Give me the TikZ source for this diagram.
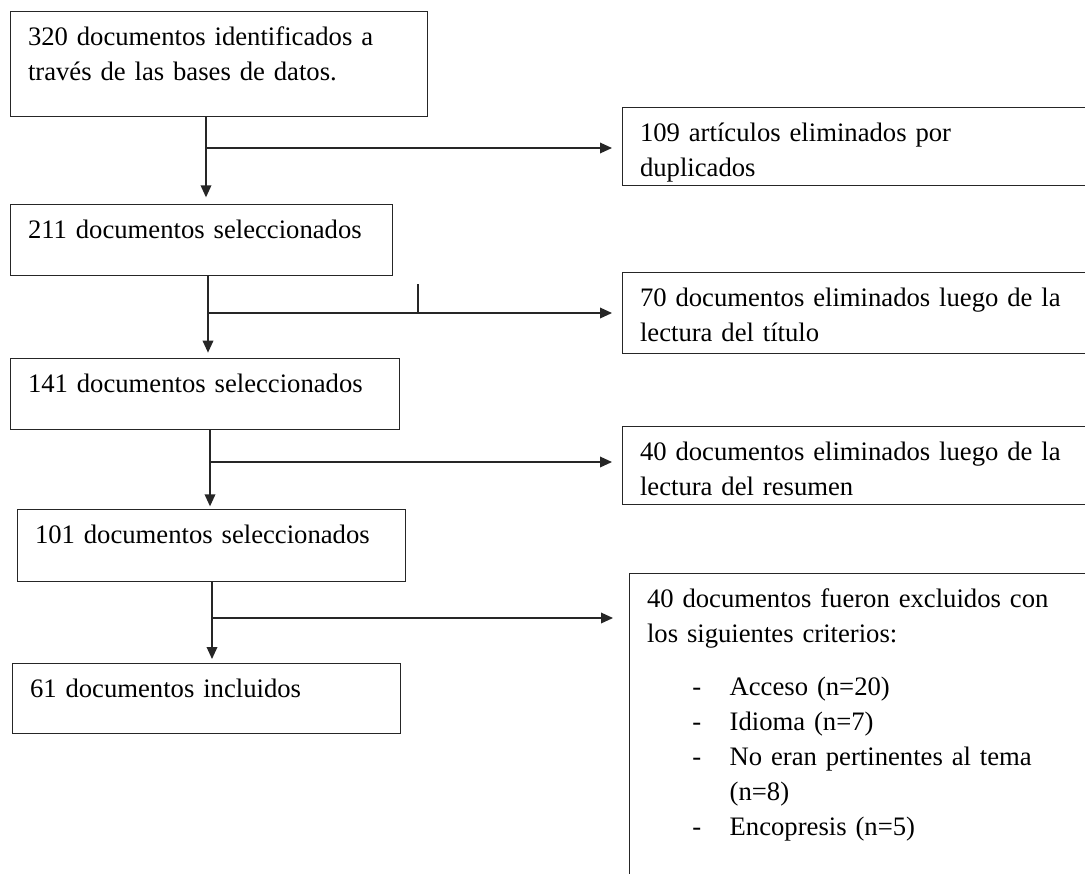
\documentclass[tikz,border=0pt]{standalone}
\usepackage{fontspec}
\setmainfont{Liberation Serif}
\usetikzlibrary{arrows.meta}

\newcommand{\crit}[1]{\makebox[62pt][l]{\hspace*{34pt}-}#1}

\begin{document}
\begin{tikzpicture}[
  x=0.75pt, y=-0.75pt,
  box/.style={draw=black!85, line width=1pt, anchor=north west, align=left,
    inner xsep=13pt, inner ysep=0pt, text height=25.5pt,
    font=\fontsize{20pt}{26.25pt}\selectfont},
  flow/.style={draw=black!85, line width=1pt, -{Triangle[length=9pt,width=8pt]}}
]
\useasboundingbox (0,0) rectangle (1085,874);
\clip (0,0) rectangle (1085,874);

% left column
\node[box, text width=286.75pt, text depth=53.25pt] (b320) at (10,11)
  {320 documentos identificados a\\través de las bases de datos.};
\node[box, text width=260.5pt, text depth=27.75pt] (b211) at (10,204)
  {211 documentos seleccionados};
\node[box, text width=265.75pt, text depth=27.75pt] (b141) at (10,358)
  {141 documentos seleccionados};
\node[box, text width=265pt, text depth=28.5pt] (b101) at (17,509)
  {101 documentos seleccionados};
\node[box, text width=265pt, text depth=27pt] (b61) at (12,663)
  {61 documentos incluidos};

% right column
\node[box, text width=332.5pt, text depth=33pt] (b109) at (622,107)
  {109 artículos eliminados por\\duplicados};
\node[box, text width=332.5pt, text depth=35.25pt] (b70) at (622,272)
  {70 documentos eliminados luego de la\\lectura del título};
\node[box, text width=332.5pt, text depth=33pt] (b40) at (622,426)
  {40 documentos eliminados luego de la\\lectura del resumen};
\node[box, text width=327.25pt, text depth=219.75pt] (b40x) at (629,573)
  {40 documentos fueron excluidos con\\
   los siguientes criterios:\\[13pt]
   \crit{Acceso (n=20)}\\
   \crit{Idioma (n=7)}\\
   \crit{No eran pertinentes al tema}\\
   \hspace*{62pt}(n=8)\\
   \crit{Encopresis (n=5)}};

% branch points
\coordinate (j1) at (206,148);
\coordinate (j2) at (208,313);
\coordinate (j3) at (210,462);
\coordinate (j4) at (212,618);
\coordinate (tick) at (418,284);

\draw[flow, shorten >=5pt] (j1 |- b320.south) -- (j1 |- b211.north);
\draw[flow, shorten >=7.5pt] (j1) -- (j1 -| b109.west);
\draw[flow, shorten >=4pt] (j2 |- b211.south) -- (j2 |- b141.north);
\draw[flow, shorten >=7.5pt] (j2) -- (j2 -| b70.west);
\draw[flow, shorten >=2pt] (j3 |- b141.south) -- (j3 |- b101.north);
\draw[flow, shorten >=7.5pt] (j3) -- (j3 -| b40.west);
\draw[flow, shorten >=3pt] (j4 |- b101.south) -- (j4 |- b61.north);
\draw[flow, shorten >=12pt] (j4) -- (j4 -| b40x.west);
\draw[draw=black!85, line width=1pt] (tick) -- (tick |- j2);
\end{tikzpicture}
\end{document}
